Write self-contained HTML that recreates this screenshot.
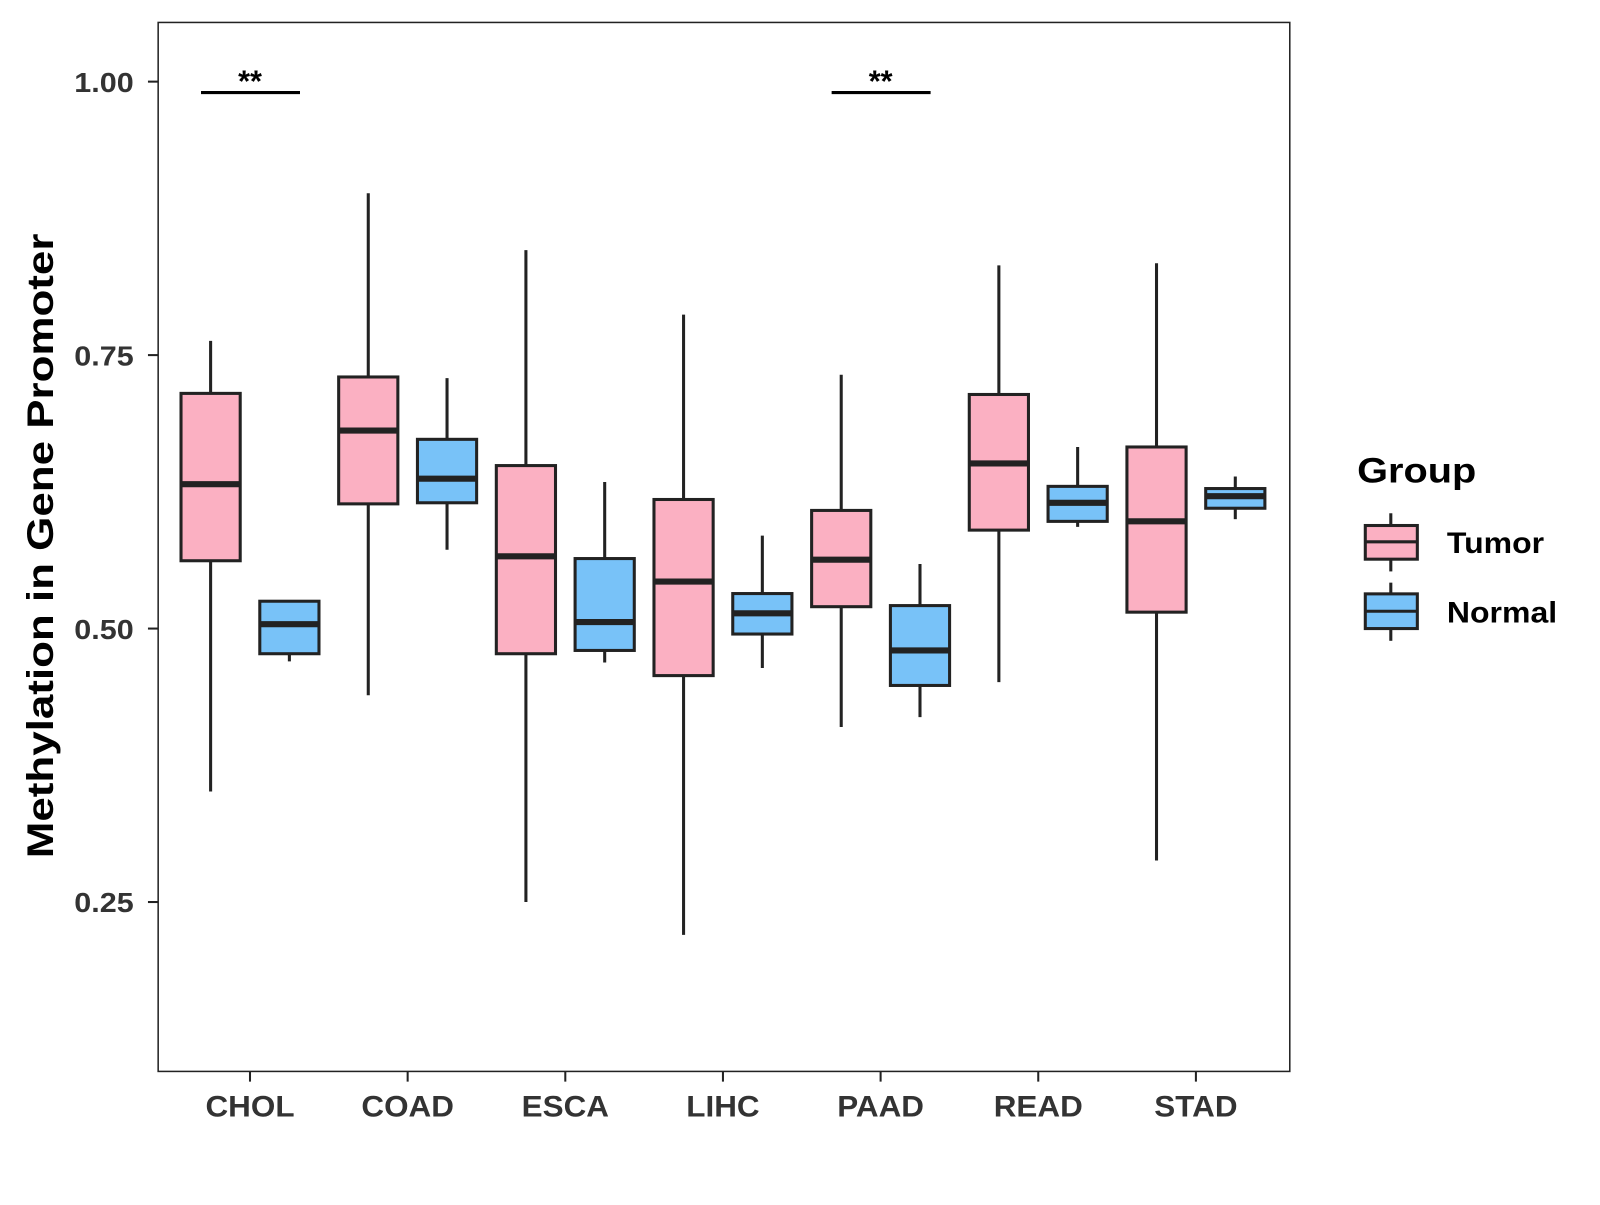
<!DOCTYPE html>
<html><head><meta charset="utf-8"><style>
body{margin:0;background:#fff;}
svg text{font-family:"Liberation Sans",Arial,sans-serif;}
</style></head><body>
<svg id="chart" width="1600" height="1200" viewBox="0 0 1600 1200" xmlns="http://www.w3.org/2000/svg">
<g transform="scale(1.0204)">
<rect x="155" y="22" width="1109" height="1028" fill="#fff" stroke="#222" stroke-width="1.5"/>
<g id="marks"></g>
<g id="axes"></g>
<text transform="translate(52,535) rotate(-90) scale(1.23,1.05)" text-anchor="middle" font-size="35" font-weight="bold" fill="#000">Methylation in Gene Promoter</text>
<g>
<text transform="translate(1330,473) scale(1.18,1.05)" font-size="33" font-weight="bold" fill="#000">Group</text>
<g>
<line x1="1363" y1="503" x2="1363" y2="560" stroke="#222" stroke-width="3"/>
<rect x="1338" y="515" width="51" height="33" fill="#FBB0C2" stroke="#222" stroke-width="3"/>
<line x1="1338" y1="531" x2="1389" y2="531" stroke="#222" stroke-width="3"/>
<text transform="translate(1418,542) scale(1.12,1.05)" font-size="28" font-weight="bold" fill="#000">Tumor</text>
</g>
<g>
<line x1="1363" y1="571" x2="1363" y2="628" stroke="#222" stroke-width="3"/>
<rect x="1338" y="582" width="51" height="34" fill="#78C2F8" stroke="#222" stroke-width="3"/>
<line x1="1338" y1="599" x2="1389" y2="599" stroke="#222" stroke-width="3"/>
<text transform="translate(1418,610) scale(1.12,1.05)" font-size="28" font-weight="bold" fill="#000">Normal</text>
</g>
</g>
</g>
</svg>
<script>
const categories=["CHOL","COAD","ESCA","LIHC","PAAD","READ","STAD"];
const tumorLow=[0.351,0.439,0.250,0.220,0.410,0.451,0.288];
const tumorQ1=[0.562,0.614,0.477,0.457,0.520,0.590,0.515];
const tumorMed=[0.632,0.681,0.566,0.543,0.563,0.651,0.598];
const tumorQ3=[0.715,0.730,0.649,0.618,0.608,0.714,0.666];
const tumorHigh=[0.763,0.898,0.846,0.787,0.732,0.832,0.834];
const normalLow=[0.470,0.572,0.469,0.464,0.419,0.593,0.600];
const normalQ1=[0.477,0.615,0.480,0.495,0.448,0.598,0.610];
const normalMed=[0.504,0.637,0.506,0.514,0.480,0.615,0.621];
const normalQ3=[0.525,0.673,0.564,0.532,0.521,0.630,0.628];
const normalHigh=[0.526,0.729,0.634,0.585,0.559,0.666,0.639];
const yTicks=[0.25,0.50,0.75,1.00];
const yTickLabels=["0.25","0.50","0.75","1.00"];
const sigCategories=["CHOL","PAAD"];
const sigLabels=["**","**"];
const sigLevel=[0.99,0.99];

const NS="http://www.w3.org/2000/svg";
function y(v){return 616-(v-0.5)*1072;}
function x(i){return 245+i*154.5;}
function mk(tag,attrs,parent){const e=document.createElementNS(NS,tag);for(const k in attrs)e.setAttribute(k,attrs[k]);parent.appendChild(e);return e;}
const marks=document.getElementById('marks'),axes=document.getElementById('axes');
const groups=[{name:"tumor",off:-38.6,fill:"#FBB0C2",lo:tumorLow,q1:tumorQ1,md:tumorMed,q3:tumorQ3,hi:tumorHigh},
{name:"normal",off:38.6,fill:"#78C2F8",lo:normalLow,q1:normalQ1,md:normalMed,q3:normalQ3,hi:normalHigh}];
categories.forEach((c,i)=>{
 groups.forEach(g=>{
  const cx=x(i)+g.off,w=58;
  const gr=mk('g',{},marks);
  
  
  mk('line',{x1:cx,x2:cx,y1:y(g.hi[i]),y2:y(g.lo[i]),stroke:"#222","stroke-width":3},gr);
  mk('rect',{x:cx-w/2,y:y(g.q3[i]),width:w,height:y(g.q1[i])-y(g.q3[i]),fill:g.fill,stroke:"#222","stroke-width":3},gr);
  mk('line',{x1:cx-w/2,x2:cx+w/2,y1:y(g.md[i]),y2:y(g.md[i]),stroke:"#222","stroke-width":6},gr);
 });
 const t=mk('line',{x1:x(i),x2:x(i),y1:1050,y2:1060,stroke:"#222","stroke-width":2},axes);
 
 
 const l=mk('text',{transform:"translate("+x(i)+",1094) scale(1.1,1.05)","text-anchor":"middle","font-size":"28","font-weight":"bold",fill:"#333"},axes);
 l.textContent=c;
 
 
});
yTicks.forEach((v,k)=>{
 const t=mk('line',{x1:145,x2:155,y1:y(v),y2:y(v),stroke:"#222","stroke-width":2},axes);
 
 
 const l=mk('text',{transform:"translate(131,"+(y(v)+10)+") scale(1.15,1.05)","text-anchor":"end","font-size":"26","font-weight":"bold",fill:"#333"},axes);
 l.textContent=yTickLabels[k];
 
 
});
sigCategories.forEach((c,k)=>{
 const i=categories.indexOf(c);
 const g=mk('g',{},marks);
 
 
 mk('line',{x1:x(i)-48,x2:x(i)+49,y1:y(sigLevel[k]),y2:y(sigLevel[k]),stroke:"#000","stroke-width":3},g);
 const t=mk('text',{x:x(i),y:y(sigLevel[k])-1,"text-anchor":"middle","font-size":"30","font-weight":"bold",fill:"#000"},g);
 t.textContent=sigLabels[k];
});
</script>
</body></html>
